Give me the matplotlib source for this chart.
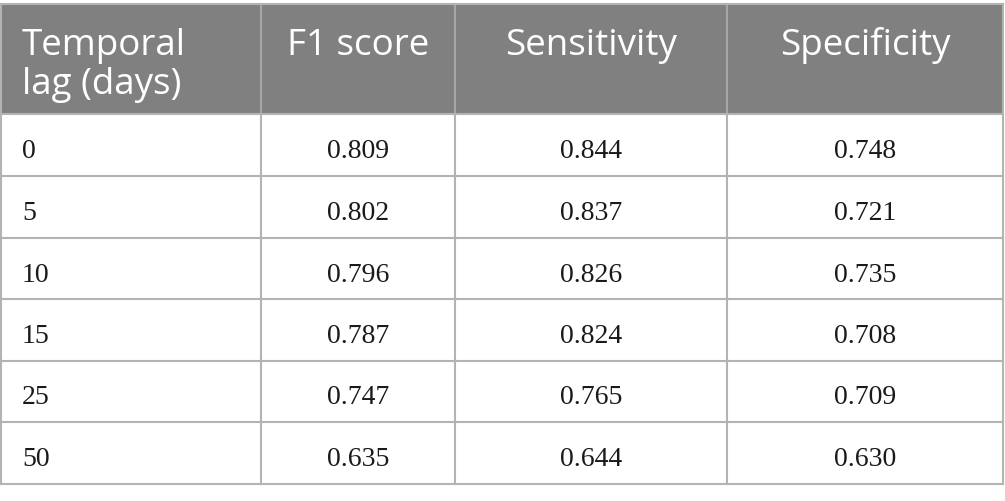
import matplotlib.pyplot as plt

headers = ['Temporal\nlag (days)', 'F1 score', 'Sensitivity', 'Specificity']
lags = ['0', '5', '10', '15', '25', '50']
f1 = ['0.809', '0.802', '0.796', '0.787', '0.747', '0.635']
sensitivity = ['0.844', '0.837', '0.826', '0.824', '0.765', '0.644']
specificity = ['0.748', '0.721', '0.735', '0.708', '0.709', '0.630']

col_edges = [1, 261, 455, 727, 1003]
header_top, header_bottom = 4, 114
row_edges = [114, 176, 238, 299, 361, 422, 484]

fig = plt.figure(figsize=(10.05, 5.01), dpi=100)
ax = fig.add_axes([0, 0, 1, 1])
ax.set_xlim(0, 1005)
ax.set_ylim(501, 0)
ax.axis('off')

# header band
ax.add_patch(plt.Rectangle((col_edges[0], header_top), col_edges[-1] - col_edges[0],
                           header_bottom - header_top, color='#808080', lw=0))
for x in col_edges[1:-1]:
    ax.plot([x, x], [header_top, header_bottom], color='#a6a6a6', lw=1.5)

# body grid
line_c = '#b3b3b3'
for y in row_edges:
    ax.plot([col_edges[0], col_edges[-1]], [y, y], color=line_c, lw=1.5)
ax.plot([col_edges[0], col_edges[-1]], [header_top, header_top], color=line_c, lw=1.5)
for x in col_edges:
    ax.plot([x, x], [header_bottom, row_edges[-1]], color=line_c, lw=1.5)
for x in (col_edges[0], col_edges[-1]):
    ax.plot([x, x], [header_top, header_bottom], color=line_c, lw=1.5)

# header text, one baseline per line
line_base = [55, 94]
for i, h in enumerate(headers):
    for k, part in enumerate(h.split('\n')):
        if i == 0:
            ax.text(22, line_base[k], part, ha='left', va='baseline', color='white',
                    fontsize=26.5, family='Open Sans')
        else:
            cx = (col_edges[i] + col_edges[i + 1]) / 2
            ax.text(cx, line_base[k], part, ha='center', va='baseline', color='white',
                    fontsize=26.5, family='Open Sans')

# body text
columns = [lags, f1, sensitivity, specificity]
for r in range(len(lags)):
    yc = (row_edges[r] + row_edges[r + 1]) / 2 + 13
    for c, vals in enumerate(columns):
        if c == 0:
            ax.text(22, yc, vals[r], ha='left', va='baseline', fontsize=20,
                    family='Liberation Serif', color='#1a1a1a')
        else:
            cx = (col_edges[c] + col_edges[c + 1]) / 2
            ax.text(cx, yc, vals[r], ha='center', va='baseline', fontsize=20,
                    family='Liberation Serif', color='#1a1a1a')

fig.savefig('out.png', dpi=100)
